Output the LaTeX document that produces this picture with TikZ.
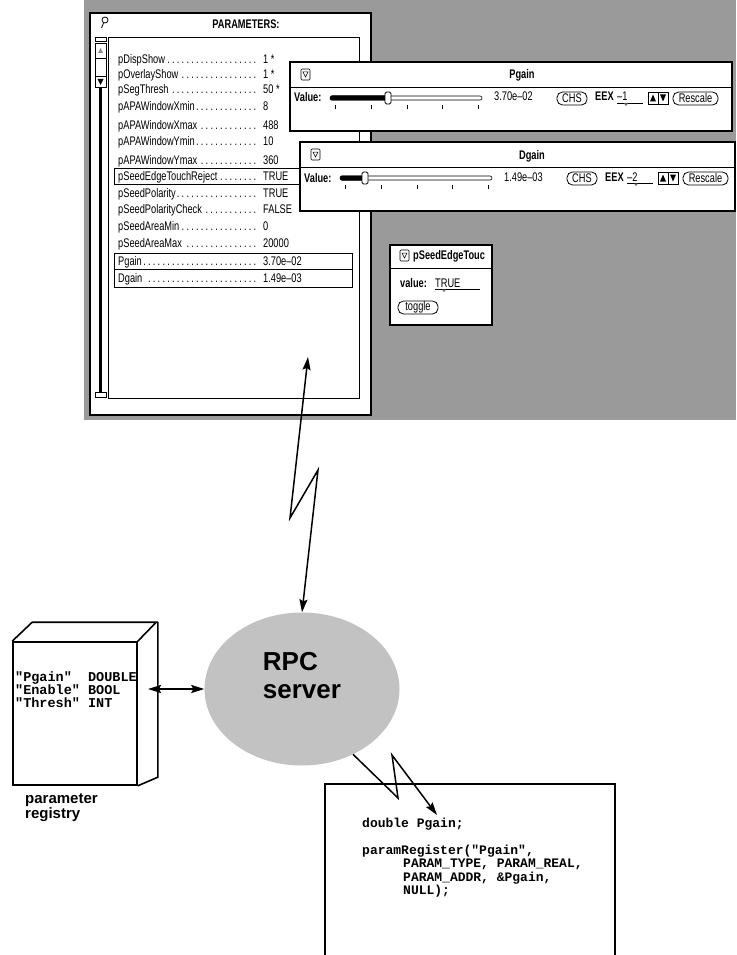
\documentclass[tikz,border=0pt]{standalone}
\usepackage{fontspec}
\setmainfont{Liberation Sans}
\setmonofont{Liberation Mono}
\newfontfamily\uifont[FakeStretch=0.74]{Liberation Sans}
\usetikzlibrary{
    arrows.meta,
    shapes.geometric
}
\definecolor{screengray}{HTML}{9A9A9A}
\definecolor{servergray}{HTML}{C2C2C2}
\newcommand{\uisize}{\fontsize{12.5}{14}\selectfont}
\newcommand{\dotleader}{\leaders\hbox to 4.8pt{\hss.\hss}\hfill}
\tikzset{
    screen/.style={
        fill=screengray,
        draw=none
    },
    window/.style={
        draw=black,
        fill=white,
        line width=1.3pt
    },
    ui line/.style={
        line width=0.7pt
    },
    ui text/.style={
        font=\uifont\uisize,
        inner sep=0pt,
        anchor=base west
    },
    ui bold/.style={
        font=\uifont\bfseries\uisize,
        inner sep=0pt,
        anchor=base west
    },
    ui button/.style={
        draw=black,
        fill=white,
        line width=0.8pt,
        rounded corners=5.5pt,
        minimum height=13pt,
        inner sep=0pt,
        font=\uifont\uisize
    },
    row box/.style={
        draw=black,
        line width=0.7pt
    },
    link/.style={
        <->,
        >={Stealth[length=13pt,width=8pt,inset=2pt]},
        line width=1.5pt
    },
    bolt/.style={
        ->,
        >={Stealth[length=13pt,width=8pt,inset=2pt]},
        line width=1.5pt
    },
    server/.style={
        ellipse,
        fill=servergray,
        minimum width=195pt,
        minimum height=153pt,
        inner sep=0pt
    },
    server label/.style={
        font=\bfseries\fontsize{26}{28}\selectfont,
        align=left
    },
    code text/.style={
        font=\ttfamily\bfseries\fontsize{13}{13.4}\selectfont,
        align=left,
        anchor=north west,
        inner sep=0pt
    },
    box edge/.style={
        draw=black,
        line width=1.6pt
    },
    caption/.style={
        font=\bfseries\fontsize{15}{15}\selectfont,
        align=left,
        anchor=north west,
        inner sep=0pt
    }
}
\newcommand{\drawgainwin}[7]{%
    \draw[window] (#1,#2) rectangle ({#1+#3},{#2+69});
    \draw[ui line] (#1,{#2+25}) -- ({#1+#3},{#2+25});
    \draw[line width=0.6pt, rounded corners=1pt]
        ({#1+11},{#2+7}) rectangle ({#1+20},{#2+18});
    \draw[line width=0.5pt]
        ({#1+13},{#2+10}) -- ({#1+18},{#2+10}) -- ({#1+15.5},{#2+15}) -- cycle;
    \node[ui bold, anchor=base] (#4-title) at ({#1+232},{#2+17}) {#4};
    \node[ui bold] (#4-label) at ({#1+4},{#2+40}) {Value:};
    \draw[line width=0.6pt, rounded corners=2pt]
        ({#1+40},{#2+34}) rectangle ({#1+192},{#2+38});
    \fill[rounded corners=1.5pt]
        ({#1+40},{#2+33.5}) rectangle ({#1+#6},{#2+38.5});
    \draw[line width=0.8pt, fill=white, rounded corners=1.5pt]
        ({#1+#6-3},{#2+30}) rectangle ({#1+#6+3},{#2+42});
    \foreach \tk in {45,81,117,152,188} {
        \draw[line width=1pt] ({#1+\tk},{#2+43}) -- ({#1+\tk},{#2+47});
    }
    \node[ui text] (#4-reading) at ({#1+204},{#2+39}) {#5};
    \node[ui button, minimum width=30pt] (#4-chs) at ({#1+282},{#2+36.5}) {CHS};
    \node[ui bold] (#4-eex) at ({#1+305},{#2+39}) {EEX};
    \node[ui text] (#4-exp) at ({#1+327},{#2+39}) {#7};
    \draw[line width=0.6pt] ({#1+327},{#2+41.5}) -- ({#1+353},{#2+41.5});
    \fill[black!55]
        ({#1+334},{#2+41.5}) -- ({#1+336},{#2+44}) -- ({#1+338},{#2+41.5}) -- cycle;
    \draw[line width=0.8pt] ({#1+358},{#2+30}) rectangle ({#1+378},{#2+42});
    \draw[line width=0.8pt] ({#1+368},{#2+30}) -- ({#1+368},{#2+42});
    \fill ({#1+360},{#2+39.5}) -- ({#1+366},{#2+39.5}) -- ({#1+363},{#2+32.5}) -- cycle;
    \fill ({#1+370},{#2+32.5}) -- ({#1+376},{#2+32.5}) -- ({#1+373},{#2+39.5}) -- cycle;
    \node[ui button, minimum width=45pt] (#4-rescale) at ({#1+405.5},{#2+36.5}) {Rescale};
}

\begin{document}
\begin{tikzpicture}[x=1pt, y=-1pt]
    \useasboundingbox (0,0) rectangle (736,955);

    % -------------------------------------------------------------------------
    % Screen with the parameter tool.
    % -------------------------------------------------------------------------
    \fill[screen] (84,0) rectangle (736,420);

    \draw[window] (90,13) rectangle (371,415);
    \draw[line width=0.8pt] (105,20) circle (3);
    \draw[line width=0.8pt] (103.5,23) -- (101.5,28);
    \node[ui bold, anchor=base] (partitle) at (246,29) {PARAMETERS:};
    \draw[ui line] (108,37) rectangle (359,398);

    % Scrollbar.
    \draw[ui line] (95,37) rectangle (106,41);
    \draw[line width=1pt] (95,44) rectangle (106,88);
    \draw[ui line] (95,58) -- (106,58);
    \draw[ui line] (95,76) -- (106,76);
    \fill[black!45] (98,53) -- (103,53) -- (100.5,48) -- cycle;
    \fill (97.5,79) -- (103.5,79) -- (100.5,85) -- cycle;
    \draw[line width=2.5pt] (100.5,88) -- (100.5,392);
    \draw[ui line] (95,392) rectangle (106,397);

    % Parameter list.
    \foreach \pname/\pval/\py in {
        pDispShow/{1 *}/64,
        pOverlayShow/{1 *}/79,
        pSegThresh/{50 *}/94,
        pAPAWindowXmin/8/111,
        pAPAWindowXmax/488/129,
        pAPAWindowYmin/10/146,
        pAPAWindowYmax/360/164,
        pSeedEdgeTouchReject/TRUE/180,
        pSeedPolarity/TRUE/197,
        pSeedPolarityCheck/FALSE/213,
        pSeedAreaMin/0/230,
        pSeedAreaMax/20000/247,
        Pgain/3.70e\textendash02/265,
        Dgain/1.49e\textendash03/282
    } {
        \node[ui text] (name-\py) at (118,\py) {\makebox[141pt][l]{\pname\dotleader}};
        \node[ui text] (value-\py) at (263,\py) {\pval};
    }
    \draw[row box] (114,168) rectangle (352,184);
    \draw[row box] (114,253) rectangle (352,269);
    \draw[row box] (114,269) rectangle (352,287);

    % Slider windows.
    \drawgainwin{290}{62}{442}{Pgain}{3.70e\textendash02}{98}{\textendash1}
    \drawgainwin{300}{142}{435}{Dgain}{1.49e\textendash03}{65}{\textendash2}

    % Toggle window.
    \draw[window] (390,245) rectangle (492,325);
    \draw[line width=0.6pt, rounded corners=1pt] (400,250) rectangle (409,261);
    \draw[line width=0.5pt] (402,253) -- (407,253) -- (404.5,258) -- cycle;
    \node[ui bold] (touch-title) at (413,259) {pSeedEdgeTouc};
    \draw[ui line] (390,268) -- (492,268);
    \node[ui bold] (touch-label) at (400,287) {value:};
    \node[ui text] (touch-value) at (435,287) {TRUE};
    \draw[line width=0.6pt] (435,289.5) -- (480,289.5);
    \fill[black!55] (442,289.5) -- (444,292) -- (446,289.5) -- cycle;
    \node[ui button, minimum width=40pt] (touch-toggle) at (418,307.5) {toggle};

    % -------------------------------------------------------------------------
    % Server, registry and application code.
    % -------------------------------------------------------------------------
    \node[server] (rpc) at (302,689) {};
    \node[server label] (rpclabel) at (302,676) {RPC\\server};

    \node[draw=black, line width=1.6pt, minimum width=124pt, minimum height=143pt,
        inner sep=0pt] (registry) at (75,713.5) {};
    \draw[box edge] (registry.north west) -- ++(20,-19) -- ++(124,0)
        -- (registry.north east);
    \draw[box edge] (registry.north east) ++(20,-19) -- ++(0,155)
        -- (registry.south east);
    \node[code text, font=\ttfamily\bfseries\fontsize{13.5}{13}\selectfont]
        (regtable) at (15,672)
        {"Pgain"~~DOUBLE\\"Enable"~BOOL\\"Thresh"~INT};
    \node[caption] (regcaption) at (25,794) {parameter\\registry};

    \draw[box edge] (325,957) |- (615,784) -- (615,957);
    \node[code text] (code) at (362,818) {%
        double Pgain;\\[13.4pt]
        paramRegister("Pgain",\\
        \hspace*{41pt}PARAM\_TYPE, PARAM\_REAL,\\
        \hspace*{41pt}PARAM\_ADDR, \&Pgain,\\
        \hspace*{41pt}NULL);};

    % Connectors.
    \coordinate (panelpt) at (308,357);
    \coordinate (regport) at (148,689);
    \coordinate (codept) at (437,815);
    \draw[link] (panelpt) -- (290,518) -- (318,470) -- (rpc.north);
    \draw[link] (regport) -- (rpc.west);
    \draw[bolt] (rpc.-52) -- (398,798) -- (392,755) -- (codept);

\end{tikzpicture}
\end{document}
